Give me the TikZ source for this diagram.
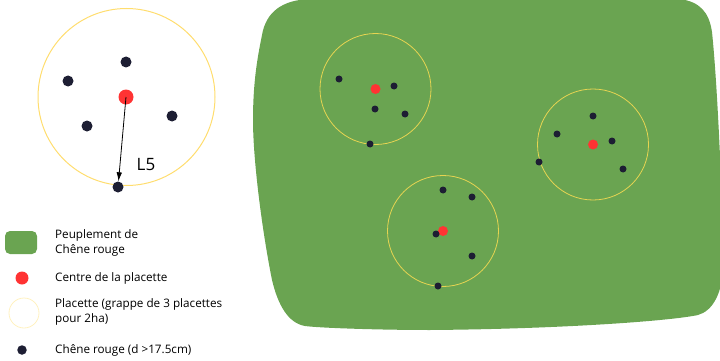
\documentclass[tikz,border=0pt]{standalone}
\usepackage{fontspec}
\setsansfont{Open Sans}
\usetikzlibrary{
    arrows.meta,
    positioning
}

\definecolor{peuplement}{HTML}{6AA451}
\definecolor{rouge}{HTML}{FF3333}
\definecolor{chene}{HTML}{1D1E33}
\definecolor{bordure}{HTML}{FFDD6E}
\definecolor{bordurepale}{HTML}{FFF1BF}
\definecolor{bordureverte}{HTML}{E6D451}

\begin{document}
\begin{tikzpicture}[
    x=1pt, y=-1pt,
    >=Latex,
    font=\sffamily\fontsize{11.7}{15.5}\selectfont,
    tree/.style={circle, fill=chene, inner sep=0pt, minimum size=#1},
    tree/.default=7pt,
    centrept/.style={circle, fill=rouge, inner sep=0pt, minimum size=#1},
    centrept/.default=10pt,
    plot/.style={circle, draw=bordureverte, line width=0.8pt, inner sep=0pt,
        minimum size=#1},
    plot/.default=111pt,
    legend/.style={anchor=west, align=left, inner sep=0pt},
    arrow/.style={-{Latex[length=9pt,width=5.5pt]}, line width=0.8pt}
]

\useasboundingbox (0,0) rectangle (720,361);

% ============================================================
% PLACETTE TYPE
% ============================================================

\node[plot=177pt, draw=bordure, line width=1pt] (p0) at (126.5,97) {};
\node[centrept=15pt] (p0-c) at (126,97) {};
\foreach \tx/\ty [count=\i] in {126/62, 68/81, 87/126, 172/116, 118/187} {
    \node[tree=11pt] (p0-\i) at (\tx,\ty) {};
}
\draw[arrow] (p0-c.center) -- (p0-5);
\node[font=\sffamily\fontsize{17}{20}\selectfont] (l5) at (146,165) {L5};

% ============================================================
% PEUPLEMENT
% ============================================================

\fill[peuplement] (262,35)
    .. controls (266,12) and (282,0) .. (310,-1)
    -- (680,-1)
    .. controls (700,2) and (709,12) .. (712,32)
    .. controls (718,90) and (722,200) .. (724,260)
    .. controls (723,295) and (712,311) .. (698,315)
    .. controls (670,321) and (560,329) .. (430,330)
    .. controls (380,330) and (320,328) .. (305,326)
    .. controls (288,323) and (278,305) .. (272,280)
    .. controls (262,230) and (253,160) .. (253,120)
    .. controls (253,80) and (258,55) .. (262,35) -- cycle;

\newcommand{\placette}[4]{%
    \node[plot] (#1) at (#2,#3) {};
    \node[centrept] (#1-c) at (#2,#3) {};
    \foreach \tx/\ty [count=\i] in {#4} {
        \node[tree] (#1-\i) at (\tx,\ty) {};
    }
}

\placette{pA}{375.5}{89}{339/79, 394/86, 375/109, 405/114, 370/144}
\placette{pB}{593}{144.5}{593/116, 557/134, 612/141, 539/162, 623/169}
\placette{pC}{443}{231}{443/190, 472/197, 436/234, 472/256, 438/286}

% ============================================================
% LEGENDE
% ============================================================

\node[fill=peuplement, rounded corners=5pt, minimum width=32pt,
    minimum height=23pt, inner sep=0pt] (kpeup) at (21,242.5) {};
\node[centrept=13pt] (kcentre) at (22,278) {};
\node[plot=30pt, draw=bordurepale] (kplac) at (24,313) {};
\node[tree=9.5pt] (ktree) at (22,350) {};

\node[legend] (tpeup) at (55,243) {Peuplement de\\Chêne rouge};
\node[legend] (tcentre) at (55,278) {Centre de la placette};
\node[legend] (tplac) at (55,312) {Placette (grappe de 3 placettes\\pour 2ha)};
\node[legend] (ttree) at (55,350) {Chêne rouge (d >17.5cm)};

\end{tikzpicture}
\end{document}
